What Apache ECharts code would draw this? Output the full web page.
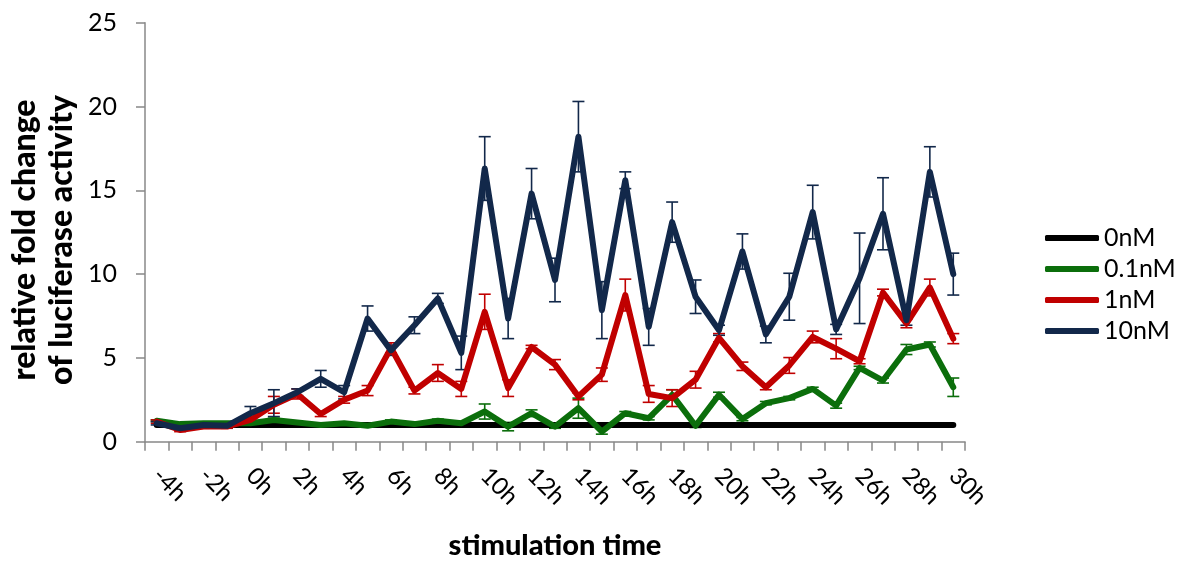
<!DOCTYPE html>
<html>
<head>
<meta charset="utf-8">
<script src="https://cdn.jsdelivr.net/npm/echarts@6/dist/echarts.min.js"></script>
<style>
html,body{margin:0;padding:0;background:#fff;}
#chart{width:1186px;height:565px;}
</style>
</head>
<body>
<div id="chart"></div>
<script>
const categories = ['-4h','-3h','-2h','-1h','0h','1h','2h','3h','4h','5h','6h','7h','8h','9h','10h','11h','12h','13h','14h','15h','16h','17h','18h','19h','20h','21h','22h','23h','24h','25h','26h','27h','28h','29h','30h'];
const yTicks = [0, 5, 10, 15, 20, 25];
const seriesNames = ['0nM', '0.1nM', '1nM', '10nM'];

const val0nM  = [1,1,1,1,1,1,1,1,1,1,1,1,1,1,1,1,1,1,1,1,1,1,1,1,1,1,1,1,1,1,1,1,1,1,1];
const val01nM = [1.25,1.05,1.1,1.1,1.1,1.3,1.15,1.0,1.1,0.95,1.2,1.05,1.25,1.1,1.8,0.9,1.7,0.9,2.0,0.6,1.7,1.4,2.8,0.95,2.8,1.35,2.3,2.6,3.15,2.15,4.4,3.65,5.5,5.8,3.25];
const val1nM  = [1.2,0.7,0.9,0.9,1.3,2.2,2.85,1.65,2.5,3.05,5.6,3.05,4.1,3.15,7.75,3.2,5.65,4.6,2.7,4.0,8.75,2.85,2.6,3.7,6.2,4.5,3.25,4.55,6.25,5.55,4.8,8.9,7.05,9.2,6.15];
const val10nM = [1.1,0.8,1.0,0.95,1.7,2.3,2.95,3.75,2.95,7.35,5.45,6.95,8.55,5.3,16.3,7.35,14.8,9.65,18.2,7.85,15.6,6.85,13.1,8.65,6.65,11.35,6.4,8.65,13.7,6.7,9.75,13.6,7.25,16.1,10.0];

const err01nM = [0.05,0.05,0.05,0.05,0.05,0.1,0.05,0.05,0.05,0.05,0.1,0.05,0.1,0.05,0.45,0.25,0.2,0.1,0.6,0.15,0.1,0.1,0.3,0.1,0.15,0.1,0.1,0.1,0.1,0.15,0.1,0.15,0.3,0.15,0.55];
const err1nM  = [0.1,0.1,0.1,0.1,0.15,0.5,0.3,0.15,0.2,0.3,0.3,0.2,0.5,0.45,1.05,0.5,0.1,0.3,0.2,0.4,0.95,0.5,0.5,0.5,0.25,0.25,0.15,0.47,0.35,0.6,0.15,0.2,0.25,0.5,0.3];
const err10nM = [0.1,0.1,0.1,0.1,0.4,0.8,0.2,0.5,0.4,0.75,0.3,0.5,0.3,1.0,1.9,1.2,1.5,1.3,2.1,1.7,0.5,1.1,1.2,1.0,0.3,1.05,0.5,1.4,1.6,0.3,2.7,2.15,0.3,1.5,1.25];

const colors = ['#000000', '#0B6E0B', '#C00000', '#12284A'];
const FONT = 'Lato, "Open Sans", sans-serif';

function errData(vals, errs) {
  return vals.map((v, i) => [i, v - errs[i], v + errs[i]]);
}
function errSeries(name, color, vals, errs) {
  return {
    name: name,
    type: 'custom',
    data: errData(vals, errs),
    encode: { x: 0, y: [1, 2] },
    silent: true,
    renderItem: function (params, api) {
      const x = api.value(0);
      const lo = api.coord([x, api.value(1)]);
      const hi = api.coord([x, api.value(2)]);
      const w = 6;
      const style = { stroke: color, lineWidth: 1.6, fill: null };
      return {
        type: 'group',
        children: [
          { type: 'line', shape: { x1: hi[0], y1: hi[1], x2: lo[0], y2: lo[1] }, style: style },
          { type: 'line', shape: { x1: hi[0] - w, y1: hi[1], x2: hi[0] + w, y2: hi[1] }, style: style },
          { type: 'line', shape: { x1: lo[0] - w, y1: lo[1], x2: lo[0] + w, y2: lo[1] }, style: style }
        ]
      };
    }
  };
}
function lineSeries(name, color, vals) {
  return {
    name: name,
    type: 'line',
    data: vals,
    symbol: 'none',
    lineStyle: { color: color, width: 6, cap: 'round', join: 'round' },
    itemStyle: { color: color }
  };
}

const chart = echarts.init(document.getElementById('chart'), null, { renderer: 'canvas' });
chart.setOption({
  animation: false,
  backgroundColor: '#ffffff',
  grid: { left: 145, right: 221, top: 22.7, bottom: 123.3, containLabel: false, outerBoundsMode: 'none' },
  legend: {
    data: seriesNames.map((n) => ({ name: n, icon: 'roundRect' })),
    orient: 'vertical',
    left: 1040,
    top: 220,
    itemWidth: 54,
    itemHeight: 6,
    itemGap: 5,
    textStyle: { fontFamily: FONT, fontSize: 25, color: '#000', lineHeight: 26 },
    selectedMode: false
  },
  xAxis: {
    type: 'category',
    data: categories,
    boundaryGap: true,
    axisLine: { lineStyle: { color: '#888888', width: 1.5 } },
    axisTick: { show: true, interval: 0, length: 9, lineStyle: { color: '#888888', width: 1.5 } },
    axisLabel: { interval: 1, rotate: -45, margin: 30, fontFamily: FONT, fontSize: 24, color: '#000' },
    splitLine: { show: false }
  },
  yAxis: {
    type: 'value',
    min: yTicks[0],
    max: yTicks[yTicks.length - 1],
    interval: 5,
    axisLine: { show: true, lineStyle: { color: '#888888', width: 1.5 } },
    axisTick: { show: true, length: 9, lineStyle: { color: '#888888', width: 1.5 } },
    axisLabel: { margin: 28, fontFamily: FONT, fontSize: 25, color: '#000' },
    splitLine: { show: false }
  },
  graphic: [
    {
      type: 'text',
      x: 43, y: 240,
      rotation: Math.PI / 2,
      style: {
        text: 'relative fold change\nof luciferase activity',
        font: '900 32px ' + FONT,
        fill: '#000',
        align: 'center',
        verticalAlign: 'middle',
        lineHeight: 37
      }
    },
    {
      type: 'text',
      x: 555, y: 546,
      style: {
        text: 'stimulation time',
        font: '900 29px ' + FONT,
        fill: '#000',
        align: 'center',
        verticalAlign: 'middle'
      }
    }
  ],
  series: [
    lineSeries(seriesNames[0], colors[0], val0nM),
    lineSeries(seriesNames[1], colors[1], val01nM),
    errSeries('err0.1nM', colors[1], val01nM, err01nM),
    lineSeries(seriesNames[2], colors[2], val1nM),
    errSeries('err1nM', colors[2], val1nM, err1nM),
    lineSeries(seriesNames[3], colors[3], val10nM),
    errSeries('err10nM', colors[3], val10nM, err10nM)
  ]
});
</script>
</body>
</html>
